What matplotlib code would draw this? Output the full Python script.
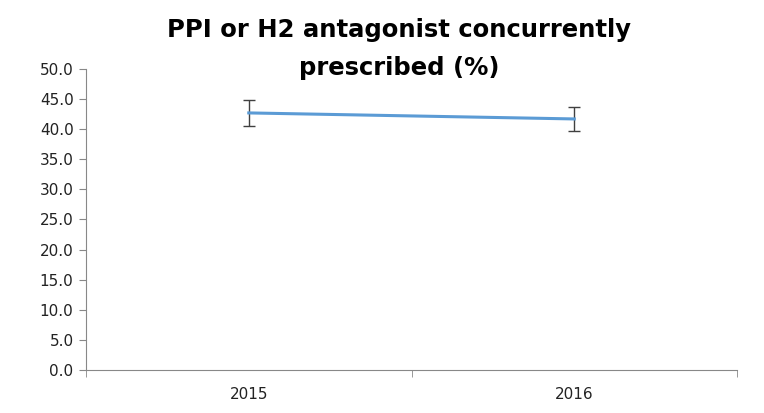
import numpy as np
from matplotlib import pyplot as plt

# values
years = ["2015", "2016"]
percent = [42.7, 41.7]
err = [2.1, 2.0]
yticks = [0, 5, 10, 15, 20, 25, 30, 35, 40, 45, 50]
title_lines = ["PPI or H2 antagonist concurrently", "prescribed (%)"]

fig = plt.figure(figsize=(7.64, 4.13), dpi=100)
ax = fig.add_axes([0.1126, 0.1041, 0.8521, 0.7289])

x = np.arange(len(years))
ax.plot(x, percent, color="#5B9BD5", linewidth=2.2, zorder=3)
ax.errorbar(x, percent, yerr=err, fmt="none", ecolor="#404040",
            elinewidth=1.0, capsize=4, capthick=1.0, zorder=2)

ax.set_xlim(-0.5, len(years) - 0.5)
ax.set_ylim(0, 50)
ax.set_yticks(yticks)
ax.set_yticklabels([f"{v:.1f}" for v in yticks], fontsize=11, color="#222222")

# category labels centred, tick marks on the boundaries
ax.set_xticks(x)
ax.set_xticklabels(years, fontsize=11, color="#222222")
ax.tick_params(axis="x", which="major", length=0, pad=12)
ax.set_xticks(np.arange(-0.5, len(years)), minor=True)
ax.tick_params(axis="x", which="minor", length=5, color="#888888", direction="out")
ax.tick_params(axis="y", length=5, color="#888888", pad=4)

for s in ["top", "right"]:
    ax.spines[s].set_visible(False)
ax.spines["left"].set_color("#888888")
ax.spines["bottom"].set_color("#888888")

# two title lines placed separately so the baselines match
fig.text(0.522, 0.9104, title_lines[0], ha="center", va="baseline",
         fontsize=17.5, fontweight="bold")
fig.text(0.522, 0.8184, title_lines[1], ha="center", va="baseline",
         fontsize=17.5, fontweight="bold")

plt.savefig("out.png", dpi=100)
